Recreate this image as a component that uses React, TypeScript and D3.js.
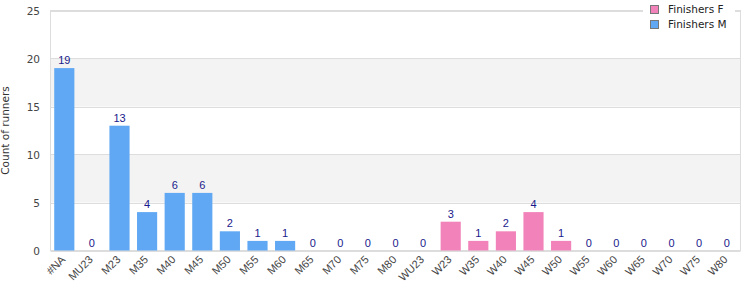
import React from "react";
import * as d3 from "d3";

const categories = ["#NA","MU23","M23","M35","M40","M45","M50","M55","M60","M65","M70","M75","M80","WU23","W23","W35","W40","W45","W50","W55","W60","W65","W70","W75","W80"];
const finishersM = [19,0,13,4,6,6,2,1,1,0,0,0,0,0,0,0,0,0,0,0,0,0,0,0,0];
const finishersF = [0,0,0,0,0,0,0,0,0,0,0,0,0,0,3,1,2,4,1,0,0,0,0,0,0];
const yTicks = [0,5,10,15,20,25];
const seriesNames = ["Finishers F","Finishers M"];

const COLOR_M = "#60a8f3";
const COLOR_F = "#f283ba";
const FONT = "DejaVu Sans, sans-serif";
const FONT2 = "Liberation Sans, Arial, sans-serif";

export default function App() {
  const W = 750, H = 300;
  const left = 50.5, right = 740.5, top = 10.5, bottom = 250.5;
  const x = d3.scaleBand<string>().domain(categories).range([left, right]).paddingInner(0.27).paddingOuter(0.135);
  const y = d3.scaleLinear().domain([0, 25]).range([bottom, top]);
  const stack = categories.map((c, i) => ({ c, m: finishersM[i], f: finishersF[i] }));
  const bands = [];
  for (let i = 0; i < yTicks.length - 1; i++) {
    if (i % 2 === 1) bands.push([yTicks[i], yTicks[i + 1]]);
  }
  return (
    <svg width={W} height={H} style={{ position: "absolute", left: 0, top: 0, fontFamily: FONT }}>
      <rect x={0} y={0} width={W} height={H} fill="#fff" />
      {bands.map(([a, b], i) => (
        <rect key={i} x={left} y={y(b)} width={right - left} height={y(a) - y(b)} fill="#f3f3f3" />
      ))}
      {yTicks.map((t) => (
        <g key={t}>
          <line x1={left} x2={right} y1={Math.round(y(t)) + 0.5} y2={Math.round(y(t)) + 0.5} stroke="#dddddd" />
          <text x={40} y={y(t) + 4} textAnchor="end" fontSize={10.5} fill="#444">{t}</text>
        </g>
      ))}
      <rect x={left} y={top} width={right - left} height={bottom - top} fill="none" stroke="#dddddd" />
      {stack.map((d) => {
        const bx = x(d.c)!;
        const bw = x.bandwidth();
        const mTop = y(d.m);
        const fTop = y(d.m + d.f);
        return (
          <g key={d.c}>
            {d.m > 0 && <rect x={bx} y={mTop} width={bw} height={y(0) - mTop} fill={COLOR_M} />}
            {d.f > 0 && <rect x={bx} y={fTop} width={bw} height={mTop - fTop} fill={COLOR_F} />}
            <text x={bx + bw / 2} y={fTop - 4} textAnchor="middle" fontSize={11} fontFamily={FONT2} fill="#1a1a8c">{d.m + d.f}</text>
            <text
              transform={`translate(${bx + bw / 2 - 1},${bottom + 7}) rotate(-45)`}
              textAnchor="end"
              fontSize={11}
              fontFamily={FONT2}
              fill="#444"
              dy="0.35em"
            >{d.c}</text>
          </g>
        );
      })}
      <text transform={`translate(9,${(top + bottom) / 2}) rotate(-90)`} textAnchor="middle" fontSize={10.5} fill="#333">Count of runners</text>
      <rect x={643} y={0} width={92} height={32} fill="#fff" />
      {seriesNames.map((s, i) => (
        <g key={s}>
          <rect x={650.5} y={5.5 + i * 15} width={8} height={8} fill={i === 0 ? COLOR_F : COLOR_M} stroke="#777" />
          <text x={668} y={13 + i * 15} fontSize={10.5} fill="#222">{s}</text>
        </g>
      ))}
    </svg>
  );
}
